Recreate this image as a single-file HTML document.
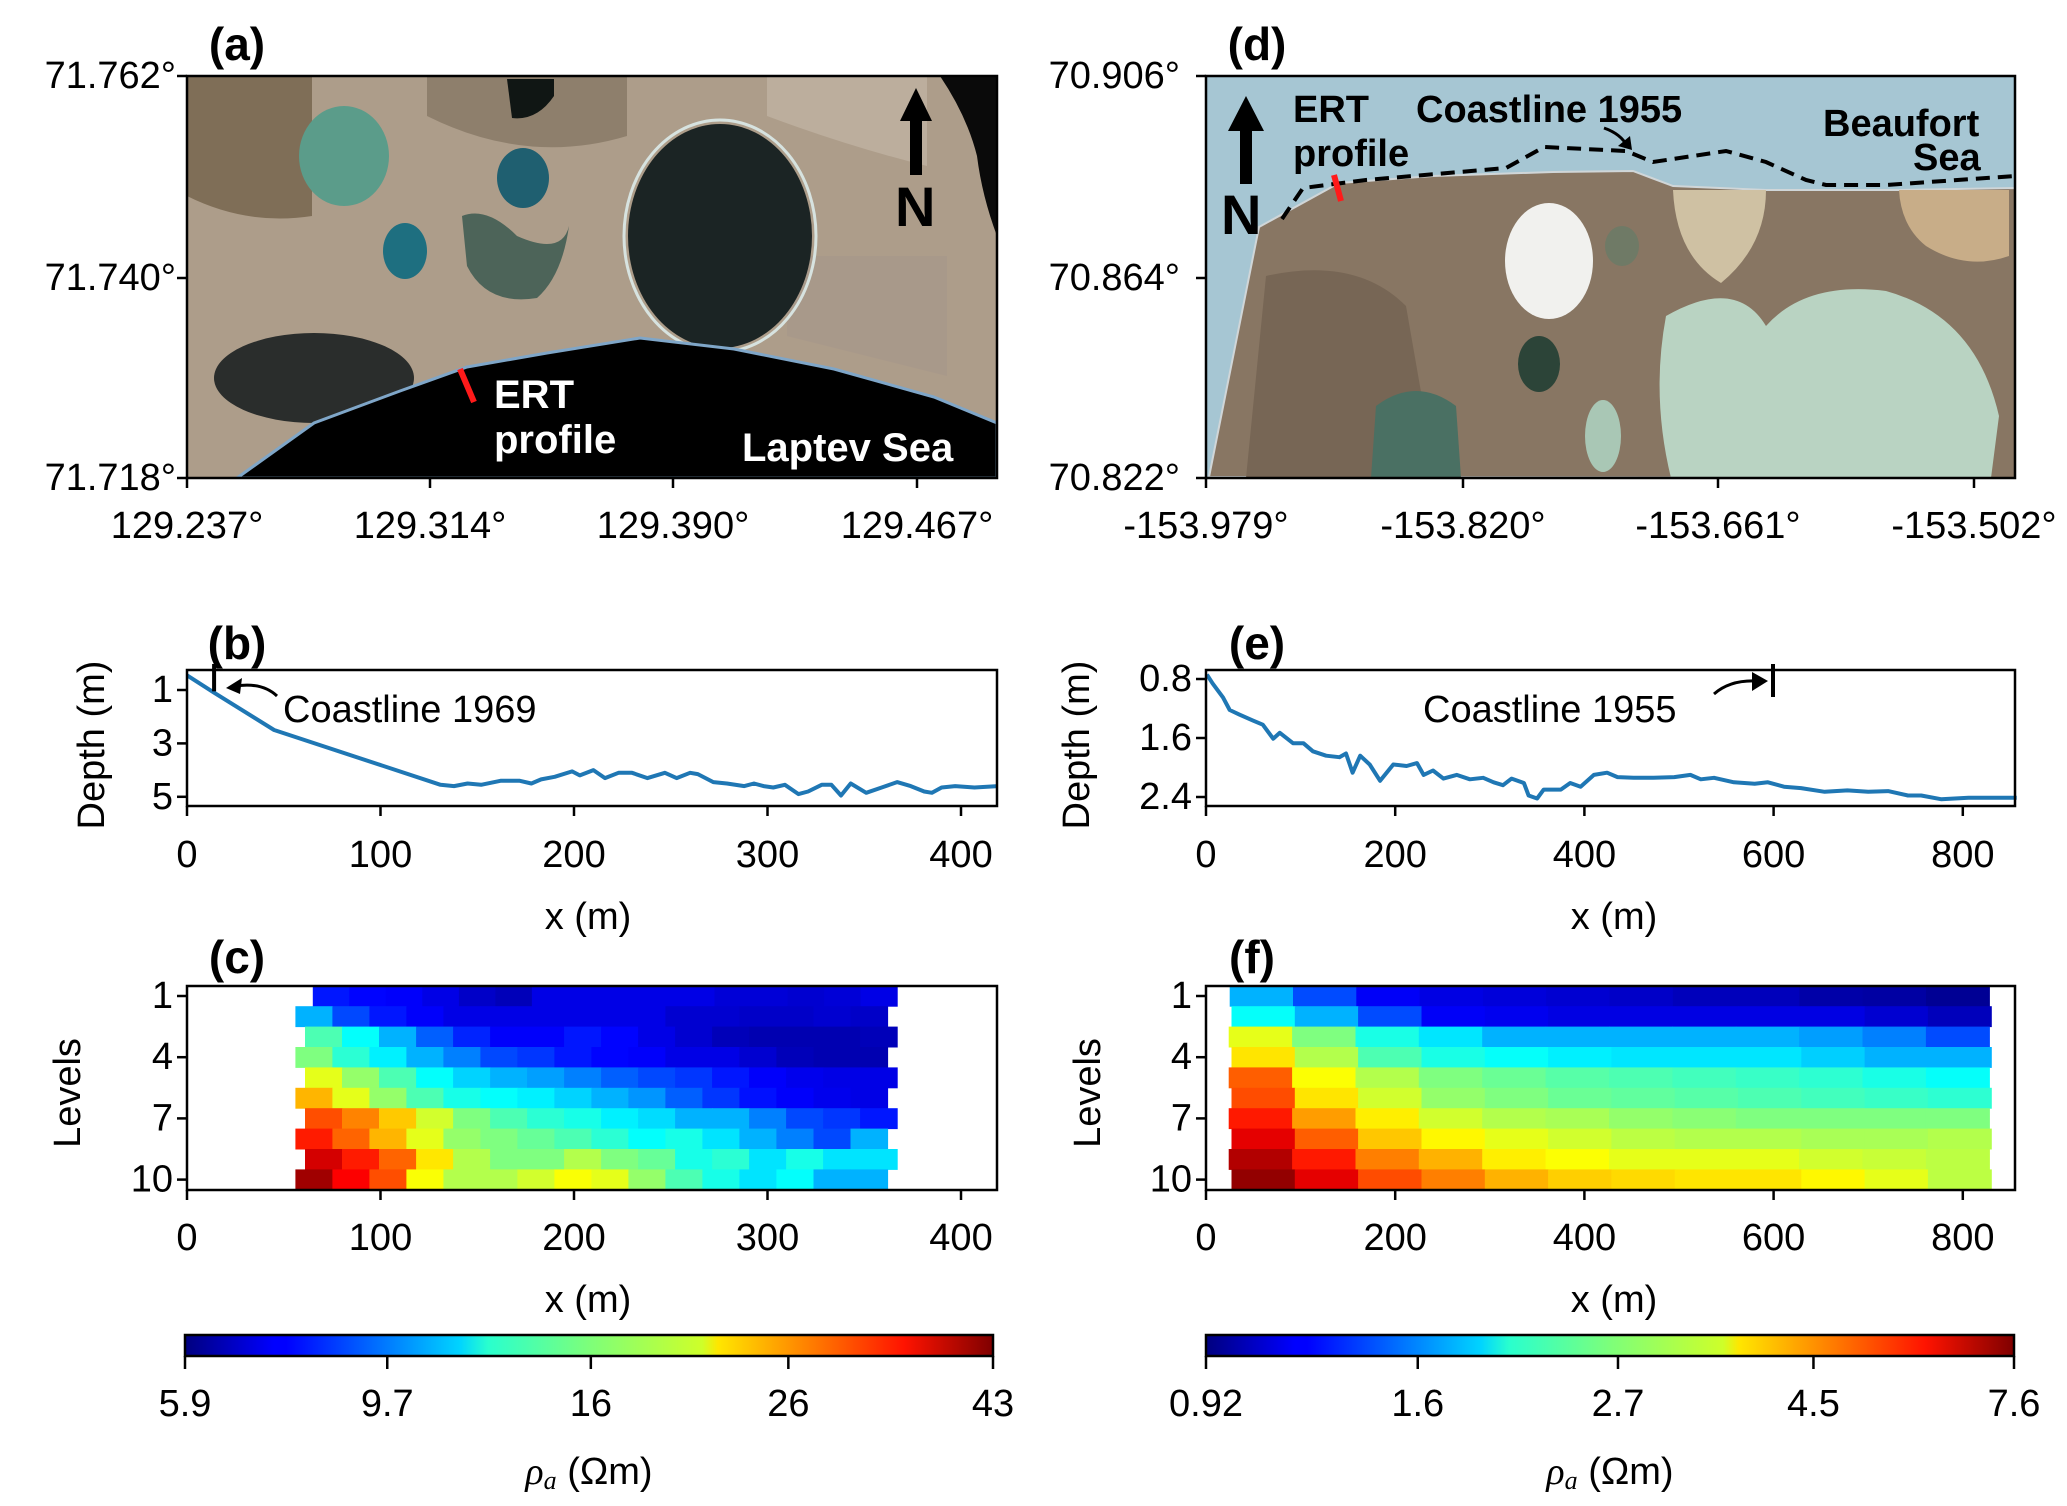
<!DOCTYPE html>
<html><head><meta charset="utf-8"><style>
html,body{margin:0;padding:0;background:#fff;}
svg{display:block;font-family:"Liberation Sans",sans-serif;}
.tk{font-size:38px;fill:#000;}
.lb{font-size:46px;font-weight:bold;fill:#000;}
</style></head><body>
<svg id="fig" width="2067" height="1506" viewBox="0 0 2067 1506" xmlns="http://www.w3.org/2000/svg">
<defs>
<clipPath id="clipA"><rect x="0" y="0" width="810" height="402"/></clipPath>
<clipPath id="clipD"><rect x="0" y="0" width="809" height="402"/></clipPath>
<linearGradient id="jet" x1="0" x2="1" y1="0" y2="0">
<stop offset="0" stop-color="#00007f"/><stop offset="0.11" stop-color="#0000ff"/><stop offset="0.125" stop-color="#0000ff"/>
<stop offset="0.34" stop-color="#00d4ff"/><stop offset="0.375" stop-color="#29ffce"/><stop offset="0.5" stop-color="#7dff7a"/>
<stop offset="0.64" stop-color="#ceff29"/><stop offset="0.66" stop-color="#ffe600"/><stop offset="0.89" stop-color="#ff1300"/><stop offset="1" stop-color="#7f0000"/>
</linearGradient>
</defs>

<!-- Panel (a) map -->
<g transform="translate(187,76)">
<g clip-path="url(#clipA)">
<rect x="0" y="0" width="810" height="402" fill="#ad9d8a"/>
<path d="M0,0 H125 V140 Q60,150 0,120Z" fill="#7f6e57"/>
<path d="M240,0 H440 V60 Q340,90 240,40Z" fill="#8e7f6c"/>
<path d="M580,0 H740 V90 Q660,70 580,40Z" fill="#bcae9d"/>
<path d="M600,180 H760 V300 Q680,280 600,260Z" fill="#a8998a"/>
<ellipse cx="157" cy="80" rx="45" ry="50" fill="#5b9c8a"/>
<ellipse cx="218" cy="175" rx="22" ry="28" fill="#1e6f80"/>
<ellipse cx="336" cy="102" rx="26" ry="30" fill="#1f5f70"/>
<path d="M275,140 Q300,130 330,160 Q375,180 382,150 Q375,200 350,222 Q300,230 280,190Z" fill="#4d6459"/>
<path d="M320,3 H367 V20 Q350,45 325,42Z" fill="#101614"/>
<ellipse cx="533" cy="160" rx="92" ry="112" fill="#1b2424"/>
<ellipse cx="533" cy="160" rx="96" ry="116" fill="none" stroke="#d7e3e0" stroke-width="3"/>
<ellipse cx="127" cy="302" rx="100" ry="45" fill="#2a2d2c"/>
<path d="M753,0 H810 V160 Q795,120 790,80 Q780,40 753,0Z" fill="#0a0a0a"/>
<path d="M50,402 L127,347 L213,315 L280,291 L360,277 L453,262 L547,273 L647,293 L747,321 L810,347 V402Z" fill="#000" stroke="#7fa6c8" stroke-width="3"/>
<line x1="273" y1="293" x2="287" y2="326" stroke="#ff1a1a" stroke-width="6"/>
<text x="307" y="332" font-size="40" font-weight="bold" fill="#fff">ERT</text>
<text x="307" y="377" font-size="40" font-weight="bold" fill="#fff">profile</text>
<text x="555" y="385" font-size="40" font-weight="bold" fill="#fff">Laptev Sea</text>
<path d="M713,45 L729,12 L745,45 L735,45 L735,99 L723,99 L723,45Z" fill="#000"/>
<text x="708" y="150" font-size="56" font-weight="bold" fill="#000">N</text>
</g>
<rect x="0" y="0" width="810" height="402" fill="none" stroke="#000" stroke-width="2.5"/>
</g>

<!-- Panel (d) map -->
<g transform="translate(1206,76)">
<g clip-path="url(#clipD)">
<rect x="0" y="0" width="809" height="402" fill="#a6c6d3"/>
<path d="M3,401 L53,151 L133,107 L227,100 L347,96 L427,95 L467,110 L560,114 L693,114 L809,112 V402Z" fill="#887663" stroke="#d0d6d8" stroke-width="2"/>
<path d="M60,200 Q150,180 200,230 L230,402 H40Z" fill="#776655"/>
<ellipse cx="343" cy="185" rx="44" ry="58" fill="#f1f1ee"/>
<ellipse cx="416" cy="170" rx="17" ry="20" fill="#6f7a66"/>
<path d="M467,114 H560 Q560,170 515,207 Q470,180 467,114Z" fill="#cfc1a3"/>
<path d="M693,114 H803 V180 Q760,195 720,170 Q695,150 693,114Z" fill="#c8ad88"/>
<path d="M460,240 Q530,200 560,250 Q600,205 680,215 Q770,240 793,340 L785,402 H465 Q445,320 460,240Z" fill="#b9d3c2"/>
<ellipse cx="397" cy="360" rx="18" ry="36" fill="#a9c7b5"/>
<ellipse cx="333" cy="288" rx="21" ry="28" fill="#2c4438"/>
<path d="M170,330 Q210,300 250,330 L255,402 H165Z" fill="#4a7063"/>
<path d="M76,143 L97,112 L160,104 L300,92 L338,71 L420,75 L447,86 L520,75 L560,86 L600,104 L620,109 L680,109 L809,100" fill="none" stroke="#000" stroke-width="4" stroke-dasharray="14,8"/>
<line x1="128" y1="99" x2="135" y2="125" stroke="#ff1a1a" stroke-width="6"/>
<path d="M398,52 Q415,58 421,70" fill="none" stroke="#000" stroke-width="3"/>
<path d="M412,70 L426,74 L424,60Z" fill="#000"/>
<text x="87" y="46" font-size="38" font-weight="bold" fill="#000">ERT</text>
<text x="87" y="90" font-size="38" font-weight="bold" fill="#000">profile</text>
<text x="210" y="46" font-size="38" font-weight="bold" fill="#000">Coastline 1955</text>
<text x="617" y="60" font-size="38" font-weight="bold" fill="#000">Beaufort</text>
<text x="707" y="94" font-size="38" font-weight="bold" fill="#000">Sea</text>
<path d="M22,55 L40,20 L58,55 L46,55 L46,108 L34,108 L34,55Z" fill="#000"/>
<text x="15" y="158" font-size="56" font-weight="bold" fill="#000">N</text>
</g>
<rect x="0" y="0" width="809" height="402" fill="none" stroke="#000" stroke-width="2.5"/>
</g>

<g id="layer"></g>
</svg>
<script>
// ---- data ----
const mapATicksX = ["129.237°","129.314°","129.390°","129.467°"];
const mapATicksY = ["71.762°","71.740°","71.718°"];
const mapDTicksX = ["-153.979°","-153.820°","-153.661°","-153.502°"];
const mapDTicksY = ["70.906°","70.864°","70.822°"];

const bX = [0,14,45,131,138,145,152,162,172,178,183,190,199,203,210,216,223,230,238,247,253,260,264,272,279,288,293,298,303,309,316,321,328,333,338,343,351,359,367,374,381,385,390,397,407,419];
const bDepth = [0.45,1.1,2.5,4.55,4.6,4.5,4.55,4.4,4.4,4.5,4.35,4.25,4.05,4.2,4.0,4.3,4.1,4.1,4.3,4.1,4.3,4.1,4.15,4.45,4.5,4.6,4.5,4.6,4.65,4.55,4.9,4.8,4.55,4.55,4.95,4.5,4.85,4.65,4.45,4.6,4.8,4.85,4.65,4.6,4.65,4.6];
const eX = [1,7,18,25,35,49,60,71,78,92,103,113,127,141,148,155,163,173,184,198,212,223,230,240,251,265,279,293,304,314,323,336,341,350,357,375,385,396,410,424,435,452,473,495,512,523,537,558,580,594,611,629,654,678,700,721,742,756,777,806,857];
const eDepth = [0.74,0.86,1.05,1.22,1.28,1.36,1.42,1.61,1.53,1.67,1.67,1.78,1.84,1.86,1.81,2.07,1.84,1.96,2.18,1.96,1.98,1.94,2.10,2.04,2.15,2.10,2.16,2.14,2.2,2.24,2.15,2.21,2.38,2.42,2.30,2.30,2.21,2.26,2.1,2.07,2.13,2.14,2.14,2.13,2.10,2.16,2.14,2.2,2.22,2.2,2.26,2.28,2.33,2.31,2.33,2.32,2.38,2.38,2.43,2.41,2.41];

const cRowStart = [65,56,61,56,61,56,61,56,61,56];
const cRowEnd = [367,362,367,362,367,362,367,362,367,362];
const cRho = [
 [7.9,7.6,7.5,7.2,6.8,6.6,7.2,7.2,7.2,7.2,7.2,7.0,7.0,6.9,7.0,7.2],
 [10.7,8.7,7.9,7.5,7.2,7.2,7.2,7.2,7.2,7.2,6.9,6.9,6.8,6.8,6.9,6.8],
 [14.4,12.5,10.7,9.1,8.1,7.5,7.5,7.9,7.6,7.2,6.9,6.6,6.5,6.5,6.5,6.6],
 [15.9,13.5,12.1,10.7,9.7,8.7,8.4,7.9,7.6,7.5,7.2,7.2,6.9,6.6,6.5,6.5],
 [19.4,16.6,14.4,12.5,11.4,10.7,10.3,9.7,9.1,8.7,8.4,7.9,7.5,7.3,7.2,7.2],
 [23.6,19.4,16.6,14.4,13.0,12.5,12.1,11.4,10.7,10.1,9.1,8.4,7.8,7.5,7.3,7.2],
 [28.8,26.0,22.7,18.7,15.9,14.4,13.5,13.0,12.1,11.6,10.7,10.7,9.7,8.7,8.4,7.9],
 [31.8,27.6,23.6,19.4,16.6,15.9,15.2,14.4,13.5,12.5,13.0,11.8,10.7,9.7,8.7,10.7],
 [36.5,31.8,27.6,21.4,17.6,15.9,15.9,17.6,15.9,15.2,13.0,13.5,11.8,13.0,11.8,11.8],
 [40.4,33.7,28.8,20.2,17.6,17.6,18.7,20.2,19.4,16.6,14.4,13.0,11.8,12.5,10.7,10.7]
];
const fRowStart = [25,27,24,27,24,27,24,27,24,27];
const fRowEnd = [828,830,828,830,828,830,828,830,828,830];
const fRho = [
 [1.73,1.40,1.18,1.13,1.11,1.09,1.07,1.04,1.04,1.0,0.99,0.96],
 [2.05,1.73,1.40,1.18,1.16,1.13,1.13,1.13,1.13,1.13,1.09,1.04],
 [3.27,2.64,2.14,1.93,1.73,1.73,1.73,1.73,1.73,1.66,1.56,1.40],
 [3.63,2.94,2.38,2.14,2.05,1.97,1.93,1.93,1.93,1.84,1.73,1.73],
 [4.8,3.42,2.94,2.64,2.53,2.43,2.38,2.33,2.28,2.23,2.14,2.05],
 [4.99,3.63,3.13,2.76,2.64,2.53,2.48,2.43,2.38,2.33,2.28,2.23],
 [5.54,4.22,3.56,3.13,2.94,2.88,2.76,2.7,2.64,2.64,2.64,2.64],
 [6.16,4.8,3.87,3.49,3.27,3.13,3.0,2.94,2.94,2.88,2.88,2.94],
 [6.84,5.54,4.49,4.04,3.56,3.42,3.27,3.27,3.27,3.13,3.07,3.0],
 [7.3,6.16,4.99,4.49,4.04,3.8,3.72,3.63,3.63,3.49,3.27,3.0]
];
const cbLeftTicks = [5.9,9.7,16,26,43];
const cbRightTicks = [0.92,1.6,2.7,4.5,7.6];
const bXTicks = [0,100,200,300,400];
const bYTicks = [1,3,5];
const eXTicks = [0,200,400,600,800];
const eYTicks = [0.8,1.6,2.4];
const levelTicks = [1,4,7,10];

// ---- helpers ----
const NS = "http://www.w3.org/2000/svg";
const layer = document.getElementById('layer');
function mk(tag, attrs, parent){
  const e = document.createElementNS(NS, tag);
  for (const k in attrs) e.setAttribute(k, attrs[k]);
  (parent||layer).appendChild(e);
  return e;
}
function txt(x,y,s,cls,anchor,parent){
  const t = mk('text',{x:x,y:y,'class':cls,'text-anchor':anchor||'middle','dominant-baseline':'central'},parent);
  t.textContent = s;
  return t;
}
function jet(t){
  t=Math.max(0,Math.min(1,t));
  function c(v){return Math.round(255*Math.max(0,Math.min(1,v)));}
  const r=c(Math.min(4*t-1.5,-4*t+4.5)), g=c(Math.min(4*t-0.5,-4*t+3.5)), b=c(Math.min(4*t+0.5,-4*t+2.5));
  return 'rgb('+r+','+g+','+b+')';
}
const xL = v => 187 + v*1.935;
const xR = v => 1206 + v*0.946;
const yB = d => 690 + (d-1)*26.7;
const yE = d => 679 + (d-0.8)*73.75;
const yLev = l => 996 + (l-1)*20.4;
const cbL = v => 185 + (Math.log(v/5.9)/Math.log(43/5.9))*808;
const cbR = v => 1206 + (Math.log(v/0.92)/Math.log(7.6/0.92))*808;

const mapATickXPos = [187,430,673,917];
mapATicksX.forEach((s,i)=>{ mk('line',{x1:mapATickXPos[i],y1:478,x2:mapATickXPos[i],y2:488,stroke:'#000','stroke-width':2.5});
  const t=txt(mapATickXPos[i],526,s,'tk');
  
   });
[76,278,478].forEach((y,i)=>{ mk('line',{x1:177,y1:y,x2:187,y2:y,stroke:'#000','stroke-width':2.5});
  const t=txt(176,y,mapATicksY[i],'tk','end');
  
   });
const mapDTickXPos = [1206,1463,1718,1974];
mapDTicksX.forEach((s,i)=>{ mk('line',{x1:mapDTickXPos[i],y1:478,x2:mapDTickXPos[i],y2:488,stroke:'#000','stroke-width':2.5});
  const t=txt(mapDTickXPos[i],526,s,'tk');
  
   });
[76,278,478].forEach((y,i)=>{ mk('line',{x1:1196,y1:y,x2:1206,y2:y,stroke:'#000','stroke-width':2.5});
  const t=txt(1180,y,mapDTicksY[i],'tk','end');
  
   });

[['(a)',237,44],['(d)',1257,44],['(b)',237,643],['(e)',1257,643],['(c)',237,957],['(f)',1252,957]].forEach(p=>{
  const t=txt(p[1],p[2],p[0],'lb');
  
  
});

function linePanel(x0,x1,xf,yf,xs,ds,xt,yt,yfmt,name){
  const g = mk('g',{});
  
  
  let d='';
  xs.forEach((v,i)=>{ d += (i?'L':'M') + xf(v).toFixed(1)+','+yf(ds[i]).toFixed(1); });
  const p = mk('path',{d:d,fill:'none',stroke:'#1f77b4','stroke-width':4,'stroke-linejoin':'round'},g);
  
  
  mk('rect',{x:x0,y:670,width:x1-x0,height:136,fill:'none',stroke:'#000','stroke-width':2.5},g);
  xt.forEach(v=>{ mk('line',{x1:xf(v),y1:806,x2:xf(v),y2:816,stroke:'#000','stroke-width':2.5},g);
    const t=txt(xf(v),855,String(v),'tk','middle',g);
    
     });
  yt.forEach(v=>{ mk('line',{x1:x0-10,y1:yf(v),x2:x0,y2:yf(v),stroke:'#000','stroke-width':2.5},g);
    const t=txt(x0-14,yf(v),yfmt(v),'tk','end',g);
    
     });
  return g;
}
linePanel(187,997,xL,yB,bX,bDepth,bXTicks,bYTicks,v=>String(v),'panel-b-bathymetry');
linePanel(1206,2015,xR,yE,eX,eDepth,eXTicks,eYTicks,v=>v.toFixed(1),'panel-e-bathymetry');

mk('line',{x1:xL(14),y1:664,x2:xL(14),y2:yB(1.05),stroke:'#000','stroke-width':4});
mk('path',{d:'M277,696 Q262,682 236,686',fill:'none',stroke:'#000','stroke-width':3});
mk('path',{d:'M226,688 L242,678 L240,694Z',fill:'#000'});
const an1=txt(283,710,'Coastline 1969','tk','start');


mk('line',{x1:1773,y1:664,x2:1773,y2:697,stroke:'#000','stroke-width':4});
mk('path',{d:'M1714,694 Q1730,680 1756,681',fill:'none',stroke:'#000','stroke-width':3});
mk('path',{d:'M1768,681 L1752,672 L1752,691Z',fill:'#000'});
const an2=txt(1423,710,'Coastline 1955','tk','start');



function heatPanel(x0,x1,xf,starts,ends,rho,lo,hi,xt,name){
  const g = mk('g',{});
  
  
  rho.forEach((row,r)=>{
    const s=starts[r], e=ends[r], w=(e-s)/row.length;
    row.forEach((v,i)=>{
      const t=Math.log(v/lo)/Math.log(hi/lo);
      const xa=xf(s+i*w), xb=xf(s+(i+1)*w);
      const cell=mk('rect',{x:xa.toFixed(1),y:(yLev(r+1)-10.2).toFixed(1),width:(xb-xa+0.6).toFixed(1),height:20.9,fill:jet(t)},g);
      
      
    });
  });
  mk('rect',{x:x0,y:986,width:x1-x0,height:204,fill:'none',stroke:'#000','stroke-width':2.5},g);
  xt.forEach(v=>{ mk('line',{x1:xf(v),y1:1190,x2:xf(v),y2:1200,stroke:'#000','stroke-width':2.5},g);
    const t=txt(xf(v),1238,String(v),'tk','middle',g);
    
     });
  levelTicks.forEach(v=>{ mk('line',{x1:x0-10,y1:yLev(v),x2:x0,y2:yLev(v),stroke:'#000','stroke-width':2.5},g);
    const t=txt(x0-14,yLev(v),String(v),'tk','end',g);
    
     });
}
heatPanel(187,997,xL,cRowStart,cRowEnd,cRho,5.9,43,bXTicks,'panel-c-heatmap');
heatPanel(1206,2015,xR,fRowStart,fRowEnd,fRho,0.92,7.6,eXTicks,'panel-f-heatmap');

function rotTitle(x,y,s,name){
  const t=mk('text',{x:x,y:y,'class':'tk','text-anchor':'middle','dominant-baseline':'central',transform:'rotate(-90 '+x+' '+y+')'});
  t.textContent=s;
  
  
}
rotTitle(92,745,'Depth (m)','y-axis-title-b');
rotTitle(68,1093,'Levels','y-axis-title-c');
rotTitle(1077,745,'Depth (m)','y-axis-title-e');
rotTitle(1088,1093,'Levels','y-axis-title-f');
[[588,917],[1614,917],[588,1300],[1614,1300]].forEach(p=>{
  const t=txt(p[0],p[1],'x (m)','tk');
  
  
});

function colorbar(x0,f,ticks,name){
  const g=mk('g',{});
  
  
  mk('rect',{x:x0,y:1335,width:808,height:21,fill:'url(#jet)',stroke:'#000','stroke-width':2.5},g);
  ticks.forEach(v=>{ mk('line',{x1:f(v),y1:1356,x2:f(v),y2:1369,stroke:'#000','stroke-width':2.5},g);
    const t=txt(f(v),1404,String(v),'tk','middle',g);
    
     });
  const lab=mk('text',{x:x0+404,y:1472,'class':'tk','text-anchor':'middle','dominant-baseline':'central'},g);
  lab.innerHTML='<tspan font-style="italic" font-family="Liberation Serif">ρ</tspan><tspan font-style="italic" font-family="Liberation Serif" font-size="26" dy="8">a</tspan><tspan dy="-8"> (Ωm)</tspan>';
  
  
}
colorbar(185,cbL,cbLeftTicks,'colorbar-left');
colorbar(1206,cbR,cbRightTicks,'colorbar-right');
</script>
</body></html>
